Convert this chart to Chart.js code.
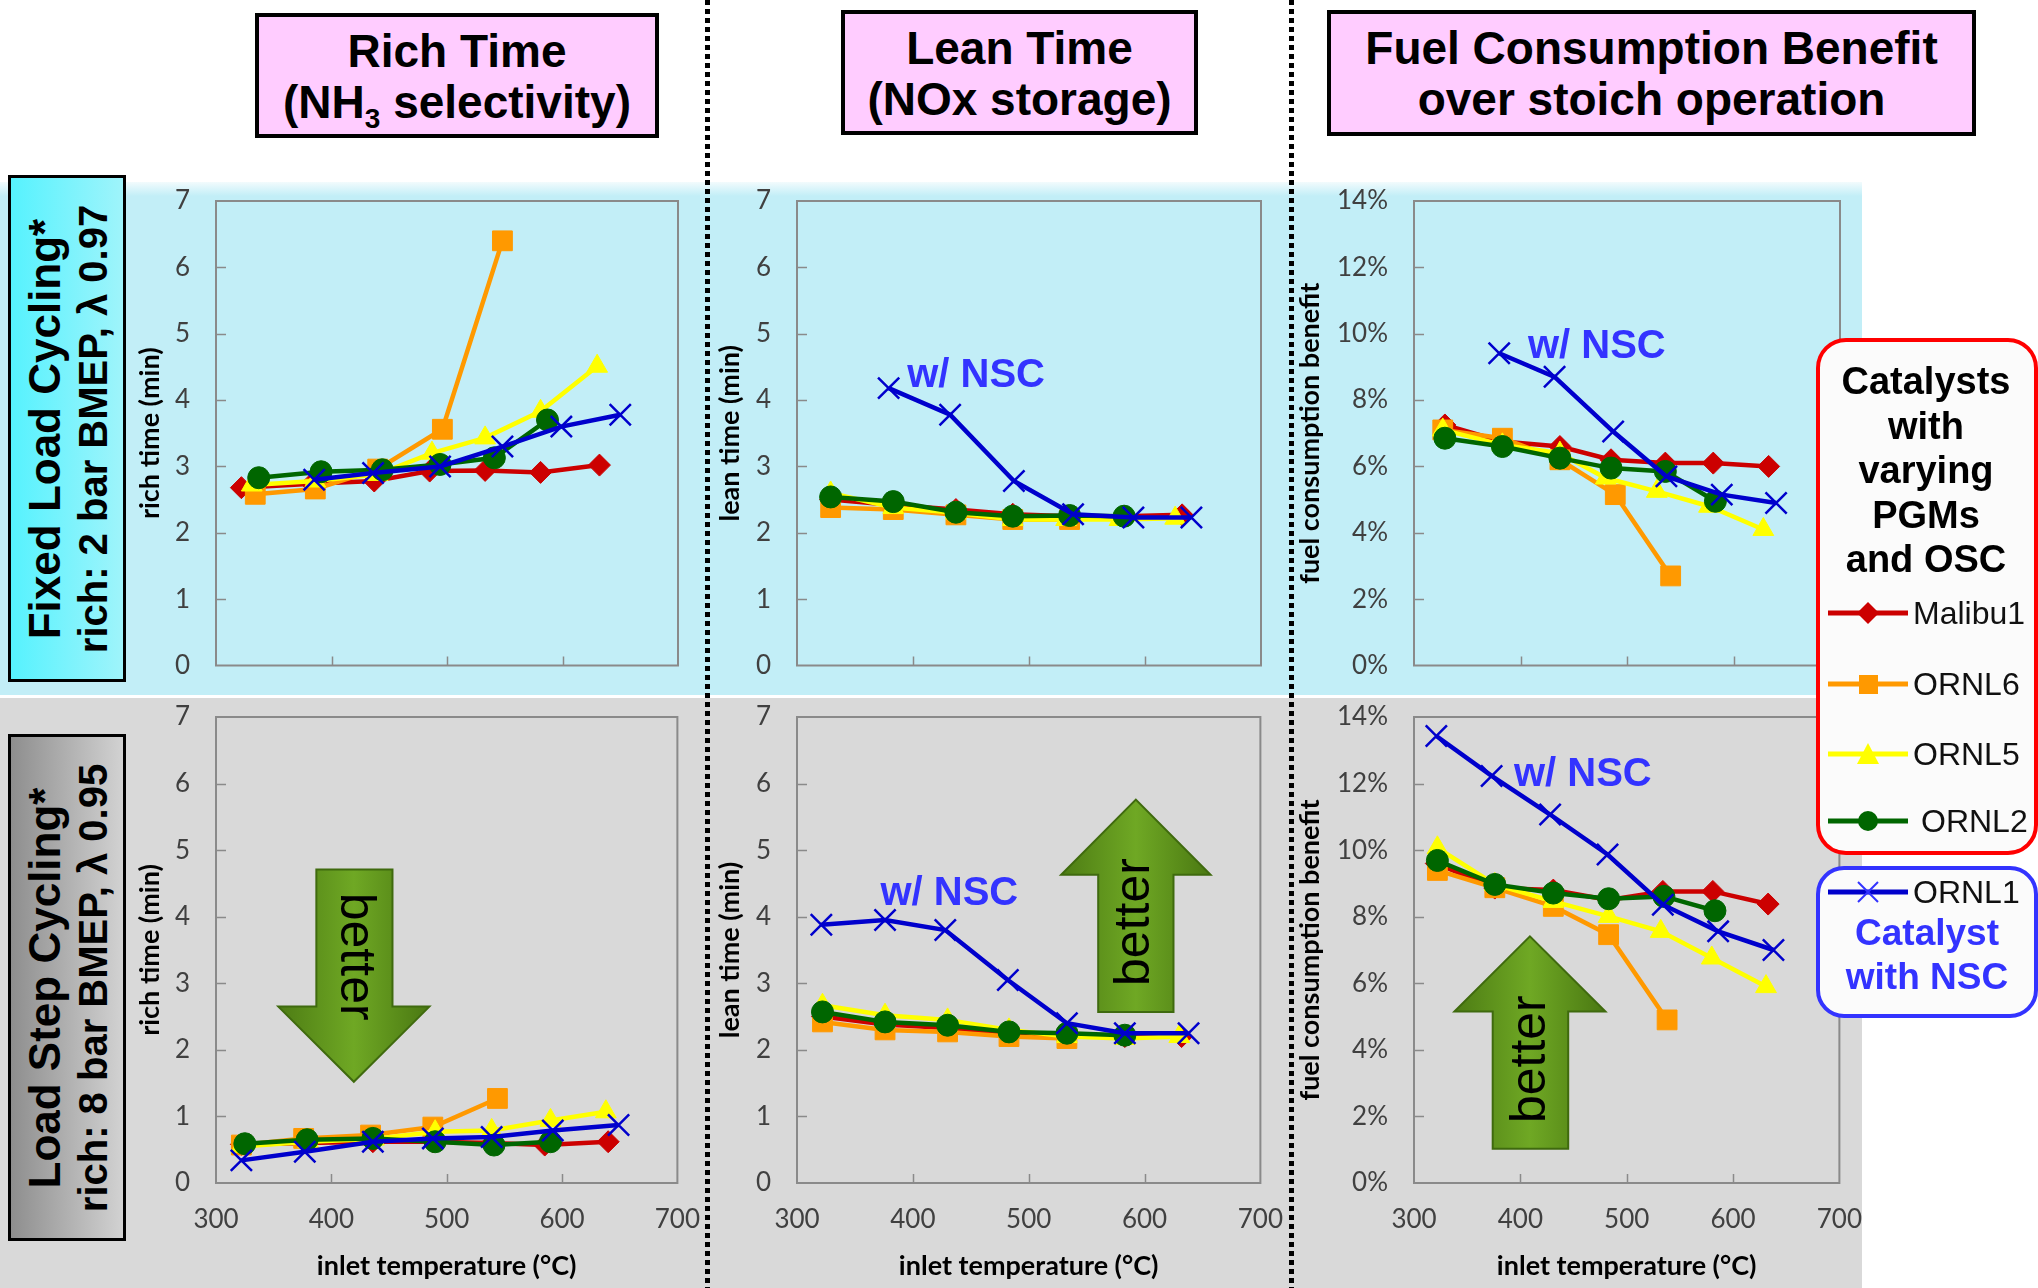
<!DOCTYPE html>
<html>
<head>
<meta charset="utf-8">
<script src="https://cdn.jsdelivr.net/npm/chart.js@4.4.1/dist/chart.umd.min.js"></script>
<style>
  body { margin:0; width:2038px; height:1288px; position:relative; overflow:hidden; background:#fff; font-family:"Liberation Sans", Arial, sans-serif; }
  .abs { position:absolute; }
  #bandTop { left:0; top:182px; width:1862px; height:513px; background:linear-gradient(#f2fbfd 0, #c2eef7 14px, #c2eef7 100%); }
  #bandBot { left:0; top:698px; width:1862px; height:590px; background:#d9d9d9; }
  .title { border:4px solid #000; background:#ffccff; font-weight:bold; font-size:46px; line-height:51px; text-align:center; box-sizing:border-box; padding-top:9px; color:#000; }
  .title sub { font-size:28px; vertical-align:-10px; line-height:0; }
  .dots { top:0; width:5px; height:1288px; background:repeating-linear-gradient(#000 0 5px, transparent 5px 9px); z-index:5; }
  .rowbox { border:3px solid #000; box-sizing:border-box; left:8px; width:118px; height:507px; overflow:hidden; }
  .rowtxt { position:absolute; left:50%; top:50%; width:501px; height:112px; margin-left:-250px; margin-top:-56px; transform:rotate(-90deg); text-align:center; font-weight:bold; color:#000; white-space:nowrap; }
  .rowtxt .l1 { font-size:44px; line-height:48px; padding-top:9px; }
  .rowtxt .l2 { font-size:40px; line-height:48px; }
  canvas { position:absolute; }
  #legRed { left:1816px; top:338px; width:222px; height:517px; border:4px solid #ff0000; border-radius:30px; background:#fbfbfb; box-sizing:border-box; z-index:6; }
  #legBlue { left:1816px; top:866px; width:222px; height:152px; border:4px solid #3333ff; border-radius:28px; background:#fbfbfb; box-sizing:border-box; z-index:6; }
  .legTitle { left:1816px; width:220px; text-align:center; font-weight:bold; font-size:38px; line-height:44.5px; z-index:7; color:#000; }
  .legItem { left:1826px; height:40px; z-index:7; display:flex; align-items:center; font-size:32px; color:#111; white-space:nowrap; }
  .legItem svg { margin-right:3px; }
  .nscTxt { left:1816px; width:222px; text-align:center; font-weight:bold; font-size:37px; line-height:44px; color:#3333ff; z-index:7; }
</style>
</head>
<body>
<div id="bandTop" class="abs"></div>
<div id="bandBot" class="abs"></div>

<div class="abs title" style="left:255px;top:13px;width:404px;height:125px;">Rich Time<br>(NH<sub>3</sub> selectivity)</div>
<div class="abs title" style="left:841px;top:10px;width:357px;height:125px;">Lean Time<br>(NOx storage)</div>
<div class="abs title" style="left:1327px;top:10px;width:649px;height:126px;">Fuel Consumption Benefit<br>over stoich operation</div>

<div class="abs rowbox" style="top:175px;background:linear-gradient(90deg,#56f2fe,#9ff4fb);">
  <div class="rowtxt"><div class="l1">Fixed Load Cycling*</div><div class="l2">rich: 2 bar BMEP, λ 0.97</div></div>
</div>
<div class="abs rowbox" style="top:734px;background:linear-gradient(90deg,#8e8e8e,#d2d2d2);">
  <div class="rowtxt"><div class="l1">Load Step Cycling*</div><div class="l2">rich: 8 bar BMEP, λ 0.95</div></div>
</div>

<canvas id="c1" width="570" height="501" style="left:130px;top:182px;"></canvas>
<canvas id="c2" width="573" height="501" style="left:710px;top:182px;"></canvas>
<canvas id="c3" width="572" height="501" style="left:1290px;top:182px;"></canvas>
<canvas id="c4" width="570" height="590" style="left:130px;top:698px;"></canvas>
<canvas id="c5" width="573" height="590" style="left:710px;top:698px;"></canvas>
<canvas id="c6" width="572" height="590" style="left:1290px;top:698px;"></canvas>

<div class="abs dots" style="left:705px;"></div>
<div class="abs dots" style="left:1289px;"></div>

<div id="legRed" class="abs"></div>
<div id="legBlue" class="abs"></div>
<div class="abs legTitle" style="top:359px;">Catalysts<br>with<br>varying<br>PGMs<br>and OSC</div>
<div id="legendItems"></div>
<div class="abs nscTxt" style="top:911px;">Catalyst<br>with NSC</div>

<script>
// ---- series ----
const seriesNames  = ["Malibu1", "ORNL6", "ORNL5", "ORNL2", "ORNL1"];
const seriesColors = ["#cc0000", "#ff9900", "#ffff00", "#006600", "#0000cc"];
const seriesShapes = ["rectRot", "rect", "triangle", "circle", "crossRot"];

// ---- fixed load cycling: rich time (min) vs inlet temperature (°C) ----
const richFixedMalibu1 = [[322,2.68],[383,2.74],[437,2.78],[485,2.93],[533,2.94],[581,2.91],[632,3.02]];
const richFixedORNL6   = [[334,2.58],[386,2.66],[440,2.96],[496,3.56],[548,6.40]];
const richFixedORNL5   = [[331,2.72],[386,2.78],[440,2.88],[487,3.20],[533,3.43],[581,3.83],[630,4.51]];
const richFixedORNL2   = [[337,2.83],[391,2.92],[444,2.95],[494,3.03],[541,3.13],[587,3.70]];
const richFixedORNL1   = [[385,2.80],[436,2.90],[494,3.00],[548,3.30],[599,3.60],[650,3.78]];

// ---- fixed load cycling: lean time (min) ----
const leanFixedMalibu1 = [[329,2.50],[383,2.42],[437,2.35],[486,2.28],[535,2.25],[582,2.25],[632,2.27]];
const leanFixedORNL6   = [[329,2.38],[383,2.35],[437,2.27],[486,2.20],[535,2.20]];
const leanFixedORNL5   = [[329,2.60],[383,2.38],[437,2.30],[486,2.20],[532,2.20],[578,2.20],[626,2.22]];
const leanFixedORNL2   = [[329,2.54],[383,2.47],[437,2.31],[486,2.25],[535,2.26],[582,2.25]];
const leanFixedORNL1   = [[379,4.18],[432,3.78],[487,2.78],[538,2.28],[590,2.23],[640,2.23]];

// ---- fixed load cycling: fuel consumption benefit (%) ----
const fuelFixedMalibu1 = [[329,7.25],[383,6.75],[437,6.60],[485,6.20],[536,6.10],[581,6.10],[633,6.00]];
const fuelFixedORNL6   = [[327,7.10],[383,6.85],[437,6.20],[489,5.15],[541,2.70]];
const fuelFixedORNL5   = [[327,7.10],[383,6.65],[437,6.40],[480,5.65],[528,5.25],[577,4.80],[628,4.10]];
const fuelFixedORNL2   = [[329,6.85],[383,6.60],[437,6.25],[485,5.95],[536,5.85],[583,4.95]];
const fuelFixedORNL1   = [[380,9.41],[432,8.70],[487,7.05],[537,5.70],[589,5.15],[640,4.90]];

// ---- load step cycling: rich time (min) ----
const richStepMalibu1 = [[322,0.58],[378,0.60],[436,0.62],[488,0.62],[539,0.60],[585,0.57],[640,0.62]];
const richStepORNL6   = [[322,0.57],[376,0.67],[434,0.72],[488,0.84],[544,1.27]];
const richStepORNL5   = [[322,0.55],[380,0.62],[437,0.66],[490,0.77],[539,0.79],[590,0.94],[638,1.07]];
const richStepORNL2   = [[325,0.59],[379,0.65],[436,0.67],[490,0.62],[541,0.57],[590,0.62]];
const richStepORNL1   = [[322,0.34],[377,0.47],[436,0.62],[488,0.67],[539,0.69],[592,0.79],[649,0.87]];

// ---- load step cycling: lean time (min) ----
const leanStepMalibu1 = [[322,2.50],[376,2.38],[430,2.33],[483,2.25],[533,2.22],[583,2.20],[632,2.20]];
const leanStepORNL6   = [[322,2.42],[376,2.30],[430,2.27],[483,2.20],[533,2.17]];
const leanStepORNL5   = [[322,2.67],[376,2.52],[430,2.45],[483,2.30],[533,2.20],[583,2.17],[630,2.20]];
const leanStepORNL2   = [[322,2.57],[376,2.42],[430,2.37],[483,2.27],[533,2.25],[583,2.22]];
const leanStepORNL1   = [[321,3.88],[376,3.95],[428,3.80],[482,3.05],[533,2.40],[583,2.25],[638,2.25]];

// ---- load step cycling: fuel consumption benefit (%) ----
const fuelStepMalibu1 = [[321,9.60],[376,8.86],[431,8.80],[483,8.50],[534,8.76],[581,8.76],[633,8.38]];
const fuelStepORNL6   = [[322,9.39],[376,8.87],[431,8.31],[483,7.46],[538,4.90]];
const fuelStepORNL5   = [[322,10.07],[376,8.97],[431,8.46],[483,8.01],[532,7.56],[580,6.76],[631,5.90]];
const fuelStepORNL2   = [[322,9.69],[376,8.97],[431,8.71],[483,8.54],[535,8.61],[583,8.18]];
const fuelStepORNL1   = [[321,13.43],[373,12.23],[428,11.07],[482,9.87],[534,8.36],[586,7.56],[638,7.00]];

// ---- axes ----
const tempTicks = [300, 400, 500, 600, 700];
const timeMax = 7, fuelMax = 14;

// annotation anchors, in data units
const nscLabelAt = { c2:[395,4.20], c3:[407,9.26], c5:[372,4.18], c6:[394,11.93] };
const betterArrows = {
  c4: { headL:354, headR:485, bodyL:387, bodyR:453, tip:1.52, base:2.65, end:4.71, textX:420, textY:3.40, rot: Math.PI/2 },
  c5: { headL:528, headR:657, bodyL:560, bodyR:625, tip:5.76, base:4.63, end:2.57, textX:592, textY:3.92, rot:-Math.PI/2 },
  c6: { headL:338, headR:480, bodyL:374, bodyR:445, tip:7.41, base:5.15, end:1.03, textX:410, textY:3.72, rot:-Math.PI/2 },
};

const panelDecor = {
  id: "panelDecor",
  beforeDatasetsDraw(chart, args, opts) {
    const { ctx, chartArea: a, scales: { x, y } } = chart;
    ctx.save();
    ctx.strokeStyle = "#8a8a8a";
    ctx.lineWidth = 2;
    ctx.strokeRect(a.left, a.top, a.right - a.left, a.bottom - a.top);
    ctx.beginPath();
    y.ticks.forEach((t) => {
      if (t.value > y.min && t.value < y.max) {
        const py = Math.round(y.getPixelForValue(t.value)) + 0.5;
        ctx.moveTo(a.left, py); ctx.lineTo(a.left + 10, py);
      }
    });
    x.ticks.forEach((t) => {
      if (t.value > x.min && t.value < x.max) {
        const px = Math.round(x.getPixelForValue(t.value)) + 0.5;
        ctx.moveTo(px, a.bottom); ctx.lineTo(px, a.bottom - 9);
      }
    });
    ctx.lineWidth = 1.5;
    ctx.stroke();

    const s = opts.arrow;
    if (s) {
      const hx0 = x.getPixelForValue(s.headL), hx1 = x.getPixelForValue(s.headR);
      const bx0 = x.getPixelForValue(s.bodyL), bx1 = x.getPixelForValue(s.bodyR);
      const tip = y.getPixelForValue(s.tip), base = y.getPixelForValue(s.base), end = y.getPixelForValue(s.end);
      const mx = (hx0 + hx1) / 2;
      ctx.beginPath();
      ctx.moveTo(bx0, end); ctx.lineTo(bx0, base); ctx.lineTo(hx0, base);
      ctx.lineTo(mx, tip); ctx.lineTo(hx1, base); ctx.lineTo(bx1, base); ctx.lineTo(bx1, end);
      ctx.closePath();
      const g = ctx.createLinearGradient(hx0, 0, hx1, 0);
      g.addColorStop(0, "#4d7c14");
      g.addColorStop(0.5, "#6fa824");
      g.addColorStop(1, "#4a7812");
      ctx.fillStyle = g;
      ctx.fill();
      ctx.strokeStyle = "#3f6a0e";
      ctx.lineWidth = 2;
      ctx.stroke();
      ctx.translate(x.getPixelForValue(s.textX), y.getPixelForValue(s.textY));
      ctx.rotate(s.rot);
      ctx.font = '50px "Liberation Sans", Arial, sans-serif';
      ctx.fillStyle = "#000";
      ctx.textAlign = "center";
      ctx.textBaseline = "middle";
      ctx.fillText("better", 0, 0);
    }
    ctx.restore();
  },
  afterDatasetsDraw(chart, args, opts) {
    if (!opts.nsc) return;
    const { ctx, scales: { x, y } } = chart;
    ctx.save();
    ctx.font = 'bold 40px "Liberation Sans", Arial, sans-serif';
    ctx.fillStyle = "#3333ff";
    ctx.textAlign = "left";
    ctx.textBaseline = "alphabetic";
    ctx.fillText("w/ NSC", x.getPixelForValue(opts.nsc[0]), y.getPixelForValue(opts.nsc[1]));
    ctx.restore();
  },
};

Chart.defaults.font.family = "Lato";

// invisible tick marks give the label gap without widening the scale's edge padding
const hiddenTicks = (len) => ({ display: true, drawOnChartArea: false, drawTicks: true, tickLength: len, color: "rgba(0,0,0,0)", tickColor: "rgba(0,0,0,0)" });

function makePanel(id, seriesData, cfg) {
  const order = [4, 3, 2, 1, 0];
  const radius = [11, 14, 12, 11, 15];
  const datasets = seriesData.map((pts, i) => ({
    label: seriesNames[i],
    data: pts.map(([t, v]) => ({ x: t, y: v })),
    borderColor: seriesColors[i],
    backgroundColor: seriesColors[i],
    borderWidth: 4.5,
    tension: 0,
    pointStyle: seriesShapes[i],
    pointRadius: radius[i],
    pointBorderWidth: i === 4 ? 2.5 : 1,
    pointBackgroundColor: seriesColors[i],
    pointBorderColor: seriesColors[i],
    order: order[i],
  }));

  new Chart(document.getElementById(id), {
    type: "line",
    data: { datasets },
    plugins: [panelDecor],
    options: {
      responsive: false,
      animation: false,
      devicePixelRatio: 1,
      layout: { padding: { top: 19, right: 22, left: 0, bottom: 0 } },
      plugins: {
        legend: { display: false },
        tooltip: { enabled: false },
        panelDecor: { arrow: betterArrows[id] || null, nsc: nscLabelAt[id] || null },
      },
      scales: {
        x: {
          type: "linear",
          min: tempTicks[0],
          max: tempTicks[tempTicks.length - 1],
          afterBuildTicks: (s) => { s.ticks = tempTicks.map((v) => ({ value: v })); },
          grid: hiddenTicks(21),
          border: { display: false },
          ticks: { display: cfg.showX, autoSkip: false, maxRotation: 0, padding: 0, color: "#404040", font: { size: 26 } },
          title: { display: cfg.showX, text: "inlet temperature (°C)", color: "#000", font: { size: 27, weight: "bold" }, padding: { top: 0, bottom: 6 } },
          afterFit: (s) => { s.height = cfg.showX ? 105 : 15; },
        },
        y: {
          min: 0,
          max: cfg.yMax,
          grid: hiddenTicks(26),
          border: { display: false },
          ticks: { stepSize: cfg.yStep, padding: 0, color: "#404040", font: { size: 26 }, callback: cfg.fmt },
          title: { display: true, text: cfg.yTitle, color: "#000", font: { size: 27, weight: "bold" }, padding: { top: 4, bottom: 0 } },
          afterFit: (s) => { s.width = cfg.yWidth; },
        },
      },
    },
  });
}

const plainFmt = (v) => v;
const pctFmt = (v) => v + "%";

makePanel("c1", [richFixedMalibu1, richFixedORNL6, richFixedORNL5, richFixedORNL2, richFixedORNL1],
  { showX: false, yMax: timeMax, yStep: 1, yTitle: "rich time (min)", fmt: plainFmt, yWidth: 86 });
makePanel("c2", [leanFixedMalibu1, leanFixedORNL6, leanFixedORNL5, leanFixedORNL2, leanFixedORNL1],
  { showX: false, yMax: timeMax, yStep: 1, yTitle: "lean time (min)", fmt: plainFmt, yWidth: 87 });
makePanel("c3", [fuelFixedMalibu1, fuelFixedORNL6, fuelFixedORNL5, fuelFixedORNL2, fuelFixedORNL1],
  { showX: false, yMax: fuelMax, yStep: 2, yTitle: "fuel consumption benefit", fmt: pctFmt, yWidth: 124 });
makePanel("c4", [richStepMalibu1, richStepORNL6, richStepORNL5, richStepORNL2, richStepORNL1],
  { showX: true, yMax: timeMax, yStep: 1, yTitle: "rich time (min)", fmt: plainFmt, yWidth: 86 });
makePanel("c5", [leanStepMalibu1, leanStepORNL6, leanStepORNL5, leanStepORNL2, leanStepORNL1],
  { showX: true, yMax: timeMax, yStep: 1, yTitle: "lean time (min)", fmt: plainFmt, yWidth: 87 });
makePanel("c6", [fuelStepMalibu1, fuelStepORNL6, fuelStepORNL5, fuelStepORNL2, fuelStepORNL1],
  { showX: true, yMax: fuelMax, yStep: 2, yTitle: "fuel consumption benefit", fmt: pctFmt, yWidth: 124 });

// ---- legend (HTML, markers drawn as small svgs) ----
const legendRowsY = [613, 684, 754, 821, 892];
function markerSvg(i) {
  const c = seriesColors[i];
  const line = `<line x1="2" y1="20" x2="82" y2="20" stroke="${c}" stroke-width="5"/>`;
  let m = "";
  if (seriesShapes[i] === "rectRot") m = `<polygon points="42,9 53,20 42,31 31,20" fill="${c}"/>`;
  if (seriesShapes[i] === "rect") m = `<rect x="33" y="11" width="19" height="19" fill="${c}"/>`;
  if (seriesShapes[i] === "triangle") m = `<polygon points="42,9 53,30 31,30" fill="${c}"/>`;
  if (seriesShapes[i] === "circle") m = `<circle cx="42" cy="20" r="10" fill="${c}"/>`;
  if (seriesShapes[i] === "crossRot") m = `<path d="M32,10 L52,30 M52,10 L32,30" stroke="#3333ff" stroke-width="2"/>`;
  return `<svg width="84" height="40">${line}${m}</svg>`;
}
document.getElementById("legendItems").innerHTML = seriesNames.map((n, i) =>
  `<div class="abs legItem" style="top:${legendRowsY[i] - 20}px;">${markerSvg(i)}<span${i === 3 ? ' style="margin-left:8px"' : ""}>${n}</span></div>`
).join("");
</script>
</body>
</html>
